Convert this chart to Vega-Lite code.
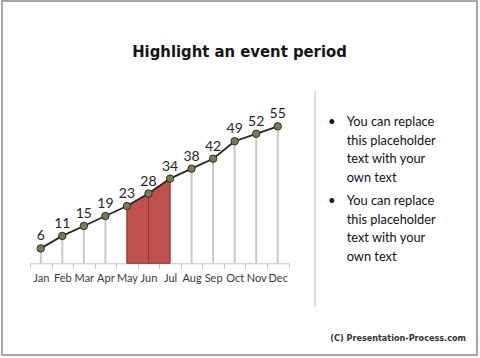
{
  "$schema": "https://vega.github.io/schema/vega-lite/v6.json",
  "width": 475,
  "height": 354,
  "padding": {"left": 2, "top": 1, "right": 3, "bottom": 3},
  "background": "white",
  "config": {
    "view": {"stroke": "#8a8a8a", "strokeWidth": 1.5},
    "font": "Lato"
  },
  "title": {
    "text": "Highlight an event period",
    "font": "DejaVu Sans Condensed, DejaVu Sans",
    "fontSize": 16.5,
    "fontWeight": "bold",
    "color": "#141414",
    "anchor": "middle",
    "baseline": "alphabetic",
    "offset": -72
  },
  "datasets": {
    "sales": [
      {"month": "Jan", "value": 6},
      {"month": "Feb", "value": 11},
      {"month": "Mar", "value": 15},
      {"month": "Apr", "value": 19},
      {"month": "May", "value": 23},
      {"month": "Jun", "value": 28},
      {"month": "Jul", "value": 34},
      {"month": "Aug", "value": 38},
      {"month": "Sep", "value": 42},
      {"month": "Oct", "value": 49},
      {"month": "Nov", "value": 52},
      {"month": "Dec", "value": 55}
    ],
    "notes": [
      {"item": 1, "text": "You can replace\nthis placeholder\ntext with your\nown text"},
      {"item": 2, "text": "You can replace\nthis placeholder\ntext with your\nown text"}
    ],
    "credit": [
      {"text": "(C) Presentation-Process.com"}
    ]
  },
  "layer": [
    {
      "data": {"name": "sales"},
      "encoding": {
        "x": {
          "field": "month",
          "type": "ordinal",
          "sort": null,
          "bandPosition": 0.5,
          "scale": {"type": "band", "paddingInner": 0, "paddingOuter": 0, "range": [28, 286.5]},
          "axis": {
            "title": null,
            "orient": "bottom",
            "offset": -91.7,
            "labelAngle": 0,
            "domainColor": "#c4c4c4",
            "tickColor": "#c4c4c4",
            "tickSize": 5,
            "tickBand": "extent",
            "grid": false,
            "labelFont": "Lato",
            "labelFontSize": 11,
            "labelColor": "#3a3a3a",
            "labelPadding": 4,
            "labelOverlap": false
          }
        },
        "y": {
          "field": "value",
          "type": "quantitative",
          "scale": {"domain": [-36.8, 105.3], "nice": false, "zero": false},
          "axis": null
        }
      },
      "layer": [
        {
          "mark": {"type": "rule", "color": "#c8c8c8", "strokeWidth": 2},
          "encoding": {"y2": {"datum": 0}}
        },
        {
          "transform": [{"filter": {"field": "month", "oneOf": ["May", "Jun"]}}],
          "mark": {"type": "area", "color": "#c0504d", "stroke": "#8e3533", "strokeWidth": 1, "opacity": 1},
          "encoding": {"y2": {"datum": 0}}
        },
        {
          "transform": [{"filter": {"field": "month", "oneOf": ["Jun", "Jul"]}}],
          "mark": {"type": "area", "color": "#c0504d", "stroke": "#8e3533", "strokeWidth": 1, "opacity": 1},
          "encoding": {"y2": {"datum": 0}}
        },
        {
          "mark": {"type": "line", "color": "#262626", "strokeWidth": 1.8}
        },
        {
          "mark": {"type": "point", "shape": "circle", "filled": true, "size": 55, "fill": "#7a7b55", "stroke": "#2e2e1e", "strokeWidth": 1, "opacity": 1}
        },
        {
          "mark": {"type": "text", "baseline": "alphabetic", "dy": -8, "fontSize": 14, "font": "Lato", "color": "#262626"},
          "encoding": {"text": {"field": "value", "type": "quantitative"}}
        }
      ]
    },
    {
      "data": {"name": "notes"},
      "encoding": {
        "y": {
          "field": "item",
          "type": "ordinal",
          "scale": {"type": "point", "padding": 0, "range": [125, 204]},
          "axis": null
        }
      },
      "layer": [
        {
          "mark": {"type": "text", "align": "center", "baseline": "alphabetic", "fontSize": 13, "font": "Lato", "color": "#111111"},
          "encoding": {
            "x": {"datum": 69.4, "type": "quantitative", "scale": {"domain": [0, 100]}, "axis": null},
            "text": {"value": "•"}
          }
        },
        {
          "mark": {"type": "text", "align": "left", "baseline": "alphabetic", "lineBreak": "\n", "lineHeight": 18.5, "fontSize": 12.8, "font": "Lato", "color": "#111111"},
          "encoding": {
            "x": {"datum": 72.57, "type": "quantitative", "scale": {"domain": [0, 100]}, "axis": null},
            "text": {"field": "text", "type": "nominal"}
          }
        }
      ]
    },
    {
      "data": {"name": "credit"},
      "encoding": {
        "x": {"type": "quantitative", "scale": {"domain": [0, 100]}, "axis": null},
        "y": {"type": "quantitative", "scale": {"domain": [0, 100], "reverse": true}, "axis": null}
      },
      "layer": [
        {
          "mark": {"type": "rule", "color": "#d4d4d4", "strokeWidth": 1.5},
          "encoding": {
            "x": {"datum": 65.9, "type": "quantitative", "scale": {"domain": [0, 100]}, "axis": null},
            "y": {"datum": 25.4, "type": "quantitative", "scale": {"domain": [0, 100], "reverse": true}, "axis": null},
            "y2": {"datum": 86.4}
          }
        },
        {
          "mark": {"type": "text", "align": "center", "baseline": "alphabetic", "fontSize": 9, "font": "DejaVu Sans Condensed, DejaVu Sans", "fontWeight": "bold", "color": "#333333"},
          "encoding": {
            "x": {"datum": 83.4, "type": "quantitative", "scale": {"domain": [0, 100]}, "axis": null},
            "y": {"datum": 96.0, "type": "quantitative", "scale": {"domain": [0, 100], "reverse": true}, "axis": null},
            "text": {"field": "text", "type": "nominal"}
          }
        }
      ]
    }
  ],
  "resolve": {"scale": {"x": "independent", "y": "independent"}, "axis": {"x": "independent", "y": "independent"}}
}
